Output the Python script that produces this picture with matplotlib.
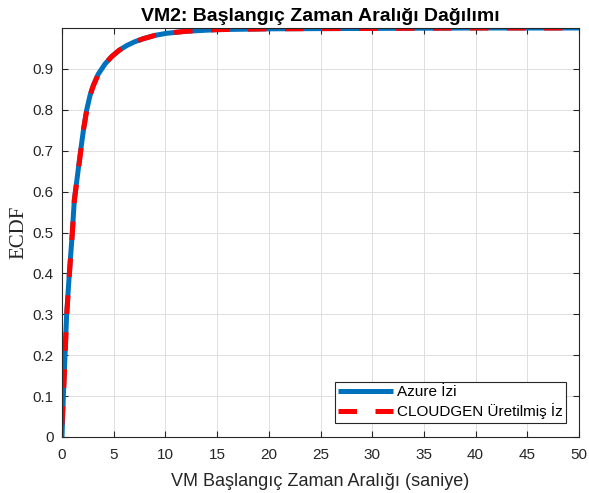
import matplotlib
matplotlib.use("Agg")
import matplotlib.pyplot as plt

# ECDF egrileri
azure_x = [0, 0.13, 0.29, 0.45, 0.71, 1.0, 1.19, 1.48, 1.8, 2.1, 2.39, 2.7, 3.03,
           3.5, 4.16, 4.8, 5.5, 6.25, 7.0, 7.86, 9.0, 10.1, 12, 15, 20, 30, 40, 50]
azure_y = [0, 0.1, 0.2, 0.3, 0.4, 0.5, 0.58, 0.636, 0.70, 0.755, 0.8, 0.834, 0.86,
           0.887, 0.912, 0.93, 0.945, 0.957, 0.966, 0.974, 0.982, 0.987, 0.992,
           0.996, 0.998, 0.999, 1.0, 1.0]

gen_x = [0, 0.05, 0.14, 0.3, 0.46, 0.72, 1.0, 1.2, 1.5, 1.82, 2.1, 2.4, 2.7, 3.05,
         3.5, 4.2, 4.8, 5.5, 6.3, 7.0, 7.9, 9.0, 10.1, 12, 15, 20, 30, 40, 50]
gen_y = [0.03, 0.06, 0.1, 0.2, 0.3, 0.4, 0.5, 0.58, 0.637, 0.70, 0.755, 0.8, 0.835,
         0.86, 0.886, 0.913, 0.93, 0.945, 0.958, 0.966, 0.974, 0.982, 0.987, 0.992,
         0.996, 0.998, 0.999, 1.0, 1.0]

x_ticks = list(range(0, 51, 5))
y_ticks = [0, 0.1, 0.2, 0.3, 0.4, 0.5, 0.6, 0.7, 0.8, 0.9]
y_tick_labels = ["0", "0.1", "0.2", "0.3", "0.4", "0.5", "0.6", "0.7", "0.8", "0.9"]

plt.rcParams['font.family'] = ['Liberation Sans', 'DejaVu Sans']

fig = plt.figure(figsize=(5.89, 4.93), dpi=100)
ax = fig.add_axes([62 / 589, 56 / 493, 517 / 589, 409 / 493])

ax.plot(azure_x, azure_y, color='#0072BD', lw=3.6, label='Azure İzi',
        solid_capstyle='butt')
ax.plot(gen_x, gen_y, color='#FF0000', lw=3.6, dashes=(3.7, 3.7),
        dash_capstyle='butt', label='CLOUDGEN Üretilmiş İz')

ax.set_xlim(0, 50)
ax.set_ylim(0, 1)
ax.set_xticks(x_ticks)
ax.set_yticks(y_ticks)
ax.set_yticklabels(y_tick_labels)

ax.grid(True, color='#dedede', lw=0.7)
ax.set_axisbelow(True)
ax.tick_params(direction='in', top=True, right=True, length=4, width=0.8,
               labelsize=11, colors='#262626')
ax.tick_params(axis='x', pad=8)
ax.tick_params(axis='y', pad=6)
for s in ax.spines.values():
    s.set_color('#262626')
    s.set_linewidth(0.8)

ax.set_title('VM2: Başlangıç Zaman Aralığı Dağılımı', fontsize=14,
             fontweight='bold', pad=5)
ax.set_xlabel('VM Başlangıç Zaman Aralığı (saniye)', fontsize=13,
              color='#262626', labelpad=8)
ax.set_ylabel('ECDF', fontsize=15, family='Liberation Serif', color='#262626',
              labelpad=3)

leg = ax.legend(loc='lower right', bbox_to_anchor=(0.975, 0.034),
                borderaxespad=0, fontsize=11, handlelength=3.6,
                handletextpad=0.2, fancybox=False, framealpha=1,
                edgecolor='#262626', borderpad=0.25, labelspacing=0.25)
leg.get_frame().set_linewidth(0.8)

fig.savefig('out.png', dpi=100)
